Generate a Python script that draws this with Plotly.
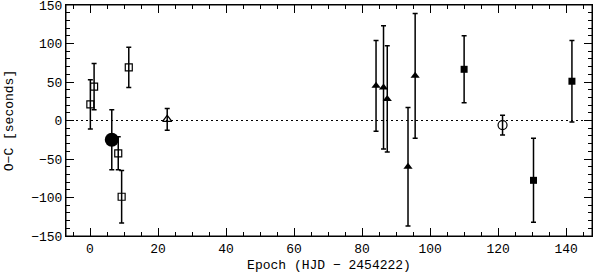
import plotly.graph_objects as go

# Open squares
sq_open_x = [0.1, 1.2, 8.3, 9.3, 11.4]
sq_open_y = [21, 44, -42.6, -99, 69]
sq_open_e = [32, 30, 21.5, 34, 26]

# Big filled circle
circ_big_x = [6.4]
circ_big_y = [-25]
circ_big_e = [39]

# Open triangle
tri_open_x = [22.7]
tri_open_y = [1.5]
tri_open_e = [14]

# Filled triangles
tri_x = [84.1, 86.3, 87.4, 93.5, 95.6]
tri_y = [45, 43, 28, -60, 58]
tri_e = [59, 80, 69, 77, 81]

# Filled squares
sq_x = [110.0, 130.4, 141.7]
sq_y = [66.5, -77.7, 51]
sq_e = [43.5, 54.5, 53]

# Open circle
circ_open_x = [121.3]
circ_open_y = [-6]
circ_open_e = [12.8]

X_RANGE = [-7.06, 147.6]
Y_RANGE = [-150, 150]

FONT = "Liberation Mono"
fig = go.Figure()

def add(x, y, e, symbol, size, lw=1.5):
    fig.add_trace(go.Scatter(
        x=x, y=y, mode="markers",
        marker=dict(symbol=symbol, size=size, color="black",
                    line=dict(color="black", width=lw)),
        error_y=dict(type="data", array=e, visible=True, color="black",
                     thickness=1.5, width=2.5),
        showlegend=False, hoverinfo="skip",
    ))

add(sq_open_x, sq_open_y, sq_open_e, "square-open", 7, 1.2)
add(circ_big_x, circ_big_y, circ_big_e, "circle", 14, 0)
add(tri_open_x, tri_open_y, tri_open_e, "triangle-up-open", 8, 1.2)
add(tri_x, tri_y, tri_e, "triangle-up", 8, 0)
add(sq_x, sq_y, sq_e, "square", 7, 0)
add(circ_open_x, circ_open_y, circ_open_e, "circle-open", 9, 1.2)

fig.add_shape(type="line", xref="paper", yref="y", x0=0, x1=1, y0=0, y1=0,
              line=dict(color="black", width=1, dash="2px,3px"), layer="below")
# plot frame
fig.add_shape(type="rect", xref="paper", yref="paper", x0=0, x1=1, y0=0, y1=1,
              line=dict(color="black", width=1), layer="above")

axis_common = dict(
    showgrid=False, zeroline=False, showline=True, linecolor="black",
    linewidth=1, mirror="allticks", ticks="inside", tickwidth=1,
    tickcolor="black", tickfont=dict(family=FONT, size=13, color="black"),
    automargin=False, ticklabeloverflow="allow",
)

fig.update_layout(
    width=597, height=274,
    margin=dict(l=66, r=5, t=5, b=38, autoexpand=False),
    plot_bgcolor="white", paper_bgcolor="white",
    xaxis=dict(range=X_RANGE, dtick=20, tick0=0, ticklen=8,
               minor=dict(dtick=5, ticks="inside", ticklen=4, tickcolor="black"),
               title=dict(text="Epoch (HJD − 2454222)", standoff=4,
                          font=dict(family=FONT, size=13, color="black")),
               **axis_common),
    yaxis=dict(range=Y_RANGE, dtick=50, tick0=0, ticklen=8,
               minor=dict(dtick=10, ticks="inside", ticklen=4, tickcolor="black"),
               title=dict(text="O−C [seconds]", standoff=14,
                          font=dict(family=FONT, size=13, color="black")),
               **axis_common),
)

fig.write_html("out.html", config={"displayModeBar": False},
               post_script="document.body.style.margin='0';document.body.style.overflow='hidden';")
